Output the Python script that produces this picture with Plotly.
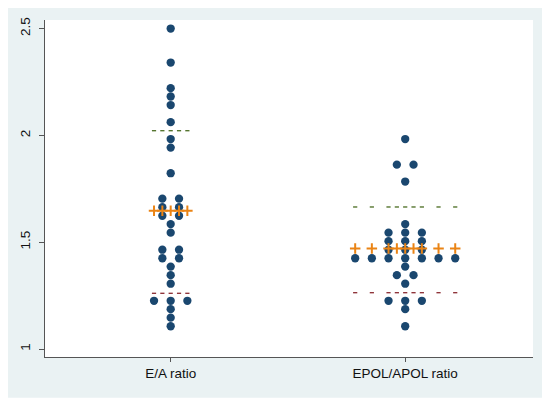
import plotly.graph_objects as go

# ── data ───────────────────────────────────────────────────────────────
GROUPS = ["E/A ratio", "EPOL/APOL ratio"]

EA_VALUES = [2.500, 2.341, 2.221, 2.182, 2.142, 2.062, 1.983, 1.943, 1.823,
             1.704, 1.704, 1.664, 1.664, 1.624, 1.624, 1.585, 1.545,
             1.465, 1.465, 1.425, 1.425, 1.386, 1.346, 1.306,
             1.226, 1.226, 1.226, 1.187, 1.147, 1.107]

EPOL_VALUES = [1.983, 1.863, 1.863, 1.784, 1.585,
               1.545, 1.545, 1.545, 1.505, 1.505, 1.505,
               1.465, 1.465, 1.465,
               1.425, 1.425, 1.425, 1.425, 1.425, 1.425, 1.425,
               1.386, 1.346, 1.346, 1.306,
               1.226, 1.226, 1.226, 1.187, 1.107]

MEANS = [1.647, 1.471]
UPPER = [2.022, 1.665]   # mean + sd
LOWER = [1.261, 1.264]   # mean - sd

# ── look ────────────────────────────────────────────────────────────────
NAVY = "#1a476f"
ORANGE = "#ea8415"
GREEN = "#55752f"
MAROON = "#90353b"
BG = "#eaf2f3"

DOT_STEP = 0.0711                      # horizontal distance between dots (x units)
LINE_SLOTS = [[-2, -1, 0, 1, 2],       # half-steps where the mean/sd symbols sit
              [-6, -4, -2, -1, 0, 1, 2, 4, 6]]

# page body has an 8px margin, so the figure is shrunk/shifted by that
OFF = 8
W, H = 550 - OFF, 403 - OFF
L, R, T, B = 44 - OFF, 17, 17 - OFF, 46

fig = go.Figure()

for gi, vals in enumerate([EA_VALUES, EPOL_VALUES]):
    centre = gi + 1
    counts = {}
    for v in vals:
        counts[v] = counts.get(v, 0) + 1
    xs, ys = [], []
    for v, n in counts.items():
        for i in range(n):
            xs.append(centre + (i - (n - 1) / 2) * DOT_STEP)
            ys.append(v)
    fig.add_trace(go.Scatter(
        x=xs, y=ys, mode="markers",
        marker=dict(size=8.3, color=NAVY, line=dict(width=0)),
        hoverinfo="y", showlegend=False,
    ))

    sx = [centre + s * DOT_STEP / 2 for s in LINE_SLOTS[gi]]
    for yv, col, sym, size, lw in [
        (UPPER[gi], GREEN, "line-ew-open", 3, 1.4),
        (LOWER[gi], MAROON, "line-ew-open", 3, 1.4),
        (MEANS[gi], ORANGE, "cross-thin-open", 7.5, 2),
    ]:
        fig.add_trace(go.Scatter(
            x=sx, y=[yv] * len(sx), mode="markers",
            marker=dict(symbol=sym, size=size, color=col,
                        line=dict(width=lw, color=col)),
            hoverinfo="y", showlegend=False,
        ))

pw, ph = W - L - R, H - T - B
fig.update_layout(
    width=W, height=H,
    margin=dict(l=L, r=R, t=T, b=B),
    paper_bgcolor="white",
    plot_bgcolor="white",
    font=dict(family="Liberation Sans, Arial, sans-serif", size=13, color="#111"),
    shapes=[
        dict(type="rect", xref="paper", yref="paper", layer="below",
             x0=(4 - OFF - L) / pw, x1=(545 - OFF - L) / pw,
             y0=-(398 - OFF - (H - B)) / ph, y1=((H - B) - (3 - OFF)) / ph,
             fillcolor=BG, line=dict(width=0)),
        dict(type="rect", xref="paper", yref="paper", layer="below",
             x0=0, x1=1, y0=0, y1=1,
             fillcolor="white", line=dict(width=0)),
    ],
    xaxis=dict(
        range=[0.464, 2.545],
        tickmode="array", tickvals=[1, 2], ticktext=GROUPS,
        showgrid=False, zeroline=False,
        showline=True, linecolor="#555", linewidth=1.2,
        ticks="outside", ticklen=4, tickcolor="#555",
        tickfont=dict(size=13.5),
    ),
    yaxis=dict(
        range=[0.963, 2.540],
        tickmode="array", tickvals=[1, 1.5, 2, 2.5],
        ticktext=["1", "1.5", "2", "2.5"],
        tickangle=-90,
        showgrid=False, zeroline=False,
        showline=True, linecolor="#555", linewidth=1.2,
        ticks="outside", ticklen=5, tickcolor="#555",
        ticklabelstandoff=4,
        tickfont=dict(size=13.5),
    ),
)

fig.write_html("out.html")
